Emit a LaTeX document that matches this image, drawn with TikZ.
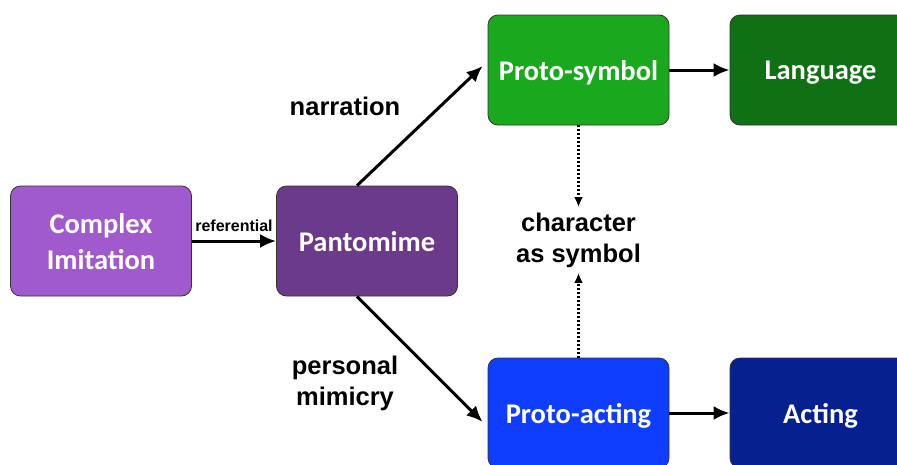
\documentclass[tikz,border=0pt]{standalone}
\usepackage{fontspec}
\setmainfont{Liberation Sans}
\newfontfamily\boxfont{Carlito}
\usetikzlibrary{arrows.meta}
\definecolor{imitcol}{HTML}{A05ACD}
\definecolor{pantcol}{HTML}{6B3A8A}
\definecolor{symcol}{HTML}{1AA81E}
\definecolor{langcol}{HTML}{0F7014}
\definecolor{actcol}{HTML}{0F3DFF}
\definecolor{actingcol}{HTML}{062090}
\definecolor{edgecol}{HTML}{333333}
\begin{document}
\begin{tikzpicture}[x=1pt, y=-1pt,
    stagebox/.style={draw=edgecol, line width=0.8pt, rounded corners=10pt,
        minimum width=181pt, minimum height=110pt, text=white, align=center,
        text depth=0pt, font=\boxfont\bfseries\fontsize{28.5}{36}\selectfont},
    flow/.style={-{Latex[length=16pt, width=14pt]}, line width=3pt},
    hint/.style={-{Latex[length=10pt, width=9pt]}, line width=2.4pt, dash pattern=on 2pt off 2pt},
    tag/.style={font=\bfseries\fontsize{25.5}{31}\selectfont, align=center}]
    \useasboundingbox (0, 0) rectangle (897, 464);
    % stages
    \node[stagebox, fill=imitcol] (imit) at (101, 241) {Complex\\Imitation};
    \node[stagebox, fill=pantcol] (pant) at (367, 241) {Pantomime};
    \node[stagebox, fill=symcol] (psym) at (578.5, 70) {Proto-symbol};
    \node[stagebox, fill=langcol] (lang) at (820.5, 70) {Language};
    \node[stagebox, fill=actcol] (pact) at (578.5, 413) {Proto-acting};
    \node[stagebox, fill=actingcol] (acting) at (820.5, 413) {Acting};
    \node[tag] (charsym) at (578.5, 240) {character\\as symbol};
    % links
    \draw[flow] (imit) -- (pant) node[midway, above=5pt, font=\bfseries\fontsize{16}{18}\selectfont] (ref) {referential};
    \draw[flow] ([xshift=-10pt]pant.north) -- ([xshift=-5pt, yshift=4pt]psym.west);
    \draw[flow] ([xshift=-10pt]pant.south) -- ([xshift=-5pt, yshift=-9pt]pact.west);
    \draw[flow] (psym) -- (lang);
    \draw[flow] (pact) -- (acting);
    \draw[hint] (psym) -- ([yshift=2pt]charsym.north);
    \draw[hint] (pact) -- ([yshift=-2pt]charsym.south);
    \node[tag] (narr) at (345, 106) {narration};
    \node[tag] (mimic) at (345, 383) {personal\\mimicry};
\end{tikzpicture}
\end{document}
